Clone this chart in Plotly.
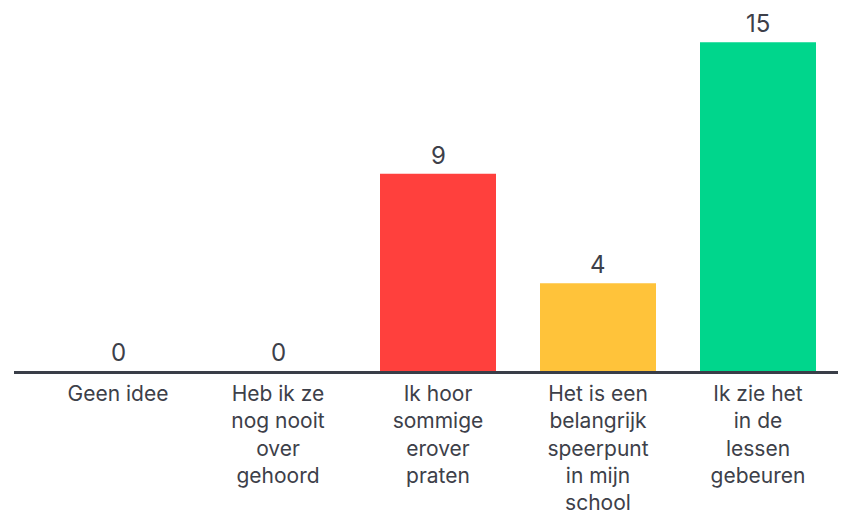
import plotly.graph_objects as go

categories = [
    "Geen idee",
    "Heb ik ze<br>nog nooit<br>over<br>gehoord",
    "Ik hoor<br>sommige<br>erover<br>praten",
    "Het is een<br>belangrijk<br>speerpunt<br>in mijn<br>school",
    "Ik zie het<br>in de<br>lessen<br>gebeuren",
]
values = [0, 0, 9, 4, 15]

bar_colors = ["#5b7cfa", "#5b7cfa", "#ff403d", "#ffc33a", "#00d68c"]
text_color = "#3d4049"

# page body has an 8px default margin; size the figure to fit the window
W, H = 838, 507
plot_h = 370
ymax = plot_h / (335 / 15)

fig = go.Figure(
    go.Bar(
        x=list(range(len(categories))),
        y=values,
        marker=dict(color=bar_colors, line=dict(width=0)),
        width=0.725,
        cliponaxis=False,
        hoverinfo="skip",
    )
)

for i, v in enumerate(values):
    fig.add_annotation(
        x=i, y=v, xref="x", yref="y",
        text=str(v), showarrow=False,
        yanchor="bottom", yshift=2,
        font=dict(size=24, color=text_color, family="Inter"),
    )

fig.update_layout(
    width=W,
    height=H,
    margin=dict(l=6, r=0, t=0, b=H - plot_h),
    paper_bgcolor="white",
    plot_bgcolor="white",
    showlegend=False,
    font=dict(family="Inter", color=text_color),
)
fig.update_xaxes(
    range=[-0.65, 4.55],
    tickmode="array",
    tickvals=list(range(len(categories))),
    ticktext=categories,
    tickfont=dict(size=21, color=text_color, family="Inter"),
    ticklabelstandoff=2,
    showline=True,
    linewidth=2.5,
    linecolor="#3a3e48",
    showgrid=False,
    zeroline=False,
    ticks="",
)
fig.update_yaxes(
    range=[0, ymax],
    visible=False,
    showgrid=False,
    zeroline=False,
)

fig.write_html("out.html")
